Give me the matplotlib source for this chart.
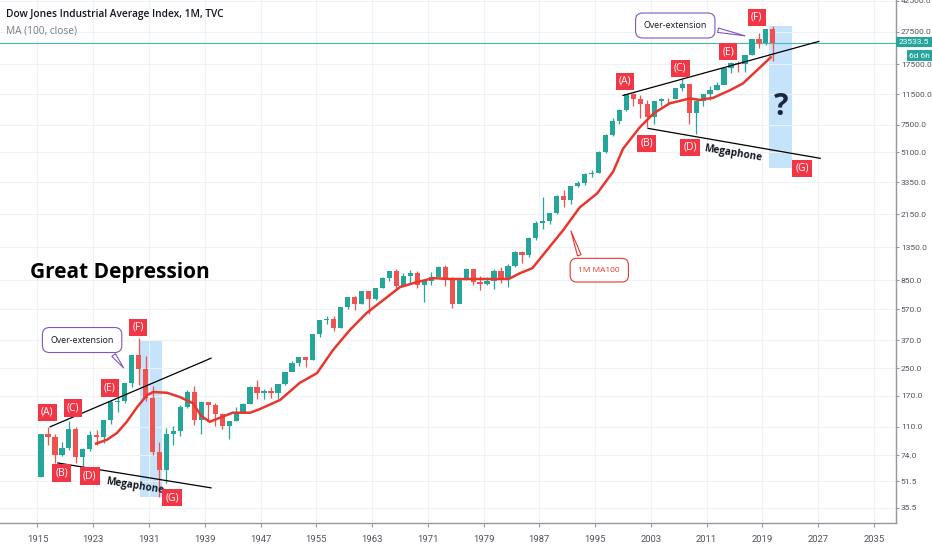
import matplotlib.pyplot as plt
from matplotlib.patches import Rectangle

# yearly candles (Dow Jones, TVC), last one = March 2020
years = list(range(1915, 2021))
open_1915 = 54.6
closes = [
    99.15, 95.00, 74.38, 82.20, 107.23, 71.95, 81.10, 98.73, 95.52, 120.51,
    156.66, 157.20, 202.40, 300.00, 248.48, 164.58, 77.90, 59.93, 99.90, 104.04,
    144.13, 179.90, 120.85, 154.76, 150.24, 131.13, 110.96, 119.40, 135.89, 152.32,
    192.91, 177.20, 181.16, 177.30, 200.13, 235.41, 269.23, 291.90, 280.90, 404.39,
    488.40, 499.47, 435.69, 583.65, 679.36, 615.89, 731.14, 652.10, 762.95, 874.13,
    969.26, 785.69, 905.11, 943.75, 800.36, 838.92, 890.20, 1020.02, 850.86, 616.24,
    852.41, 1004.65, 831.17, 805.01, 838.74, 963.99, 875.00, 1046.54, 1258.64, 1211.57,
    1546.67, 1895.95, 1938.83, 2168.57, 2753.20, 2633.66, 3168.83, 3301.11, 3754.09, 3834.44,
    5117.12, 6448.27, 7908.25, 9181.43, 11497.12, 10786.85, 10021.50, 8341.63, 10453.92, 10783.01,
    10717.50, 12463.15, 13264.82, 8776.39, 10428.05, 11577.51, 12217.56, 13104.14, 16576.66, 17823.07,
    17425.03, 19762.60, 24719.22, 23327.46, 28538.44, 23533.5,
]
highs = [
    99.21, 110.15, 99.18, 89.07, 119.62, 109.88, 81.50, 103.43, 105.38, 120.51,
    159.39, 166.64, 202.40, 300.00, 381.17, 294.07, 194.36, 88.78, 108.67, 110.74,
    148.44, 184.90, 194.40, 158.41, 155.92, 152.80, 133.59, 119.71, 145.82, 152.53,
    195.82, 212.50, 186.85, 193.16, 200.52, 235.47, 276.37, 292.00, 293.79, 404.39,
    488.40, 521.05, 520.77, 583.65, 679.36, 685.47, 734.91, 726.01, 767.21, 891.71,
    969.26, 995.15, 943.08, 985.21, 968.85, 842.00, 950.82, 1036.27, 1051.70, 891.66,
    881.81, 1014.79, 999.75, 907.74, 897.61, 1000.17, 1024.05, 1070.55, 1287.20, 1286.64,
    1553.10, 1955.57, 2722.42, 2183.50, 2791.41, 2999.75, 3168.83, 3413.21, 3794.33, 3978.36,
    5216.47, 6560.91, 8259.31, 9374.27, 11497.12, 11722.98, 11337.92, 10635.25, 10453.92, 10854.54,
    10940.55, 12510.57, 14164.53, 13058.20, 10548.51, 11585.38, 12810.54, 13610.15, 16576.66, 18053.71,
    18312.39, 19974.62, 24837.51, 26951.81, 28701.66, 29568.57,
]
lows = [
    54.22, 84.96, 65.95, 73.38, 79.15, 66.75, 63.90, 78.59, 85.76, 88.33,
    115.00, 135.20, 152.73, 191.33, 198.69, 157.51, 73.79, 41.22, 50.16, 85.51,
    96.71, 143.11, 113.64, 98.95, 121.44, 111.84, 106.34, 92.92, 119.26, 134.22,
    151.35, 163.12, 163.21, 165.39, 161.60, 196.81, 238.99, 256.35, 255.49, 279.87,
    388.20, 462.35, 419.79, 436.89, 574.46, 566.05, 610.25, 535.76, 646.79, 766.08,
    840.59, 744.32, 786.41, 825.13, 769.93, 631.16, 797.97, 889.15, 788.31, 577.60,
    632.04, 858.71, 800.85, 742.12, 796.67, 759.13, 824.01, 776.92, 1027.04, 1086.57,
    1184.96, 1502.29, 1738.74, 1879.14, 2144.64, 2365.10, 2470.30, 3136.58, 3241.95, 3593.35,
    3832.08, 5032.94, 6391.69, 7539.07, 9120.67, 9796.03, 8235.81, 7286.27, 7524.06, 9749.99,
    10012.36, 10667.39, 12050.41, 7552.29, 6547.05, 9686.48, 10655.30, 12101.46, 13328.85, 15372.80,
    15666.44, 15660.18, 19732.40, 21792.20, 22686.22, 18213.65,
]

# 1M MA100
ma_years = [
    1923.4, 1925.0, 1926.4, 1927.8, 1929.3, 1930.7, 1931.6, 1933.6, 1935.4, 1937.3,
    1938.5, 1939.7, 1941.2, 1943.0, 1945.5, 1946.9, 1949.8, 1952.6, 1955.1, 1957.4,
    1959.8, 1962.2, 1964.6, 1967.0, 1969.4, 1971.8, 1974.2, 1976.6, 1979.0, 1982.6,
    1984.2, 1986.0, 1988.1, 1990.4, 1992.8, 1995.3, 1997.6, 1999.0, 2001.4, 2003.4,
    2005.7, 2008.6, 2010.0, 2011.9, 2014.3, 2016.2, 2018.2, 2020.2,
]
ma_values = [
    87, 92, 101, 118, 145, 171, 179, 177, 167, 153,
    128, 118, 125, 134, 134, 141, 160, 203, 233, 322,
    425, 539, 646, 775, 830, 878, 868, 868, 868, 868,
    940, 1010, 1300, 1714, 2361, 2872, 3900, 5350, 7220, 8780,
    10100, 10820, 10600, 10900, 12100, 13330, 16000, 19200,
]

last_price = 23533.5
y_ticks = [35.5, 51.5, 74.0, 110.0, 170.0, 250.0, 370.0, 570.0, 850.0, 1350.0,
           2150.0, 3350.0, 5100.0, 7500.0, 11500.0, 17500.0, 27500.0, 42500.0]
x_ticks = list(range(1915, 2036, 8))

UP = "#26a69a"
DOWN = "#ef5350"
RED = "#f23645"
TEXT = "#131722"
AXIS_TXT = "#50535e"
SCALE_FONT = ["Roboto", "DejaVu Sans"]

plt.rcParams["font.family"] = ["Open Sans", "DejaVu Sans"]

fig = plt.figure(figsize=(9.32, 5.5), dpi=100)
ax = fig.add_axes([0, 27 / 550, 896 / 932, 523 / 550])
ax.set_yscale("log")
ax.set_xlim(1909.62, 1909.62 + 896 / 6.97)
ax.set_ylim(28.7, 42800)

# candles
opens = [open_1915] + closes[:-1]
xs = [y + 0.5 for y in years]
cols = [UP if c >= o else DOWN for o, c in zip(opens, closes)]
ax.vlines(xs, lows, highs, colors=cols, lw=0.9, zorder=3)
ax.bar(xs, [abs(c - o) for o, c in zip(opens, closes)],
       bottom=[min(o, c) for o, c in zip(opens, closes)],
       width=0.75, color=cols, zorder=3)

ax.plot(ma_years, ma_values, color="#e8372f", lw=1.8, zorder=4)
ax.axhline(last_price, color="#4db6ac", lw=0.8, zorder=2)

# axes look
for s in ["top", "left"]:
    ax.spines[s].set_visible(False)
for s in ["right", "bottom"]:
    ax.spines[s].set_color("#9598a1")
    ax.spines[s].set_linewidth(1.0)
ax.yaxis.tick_right()
ax.set_yticks(y_ticks)
ax.set_yticklabels([f"{v:.1f}" for v in y_ticks], family=SCALE_FONT)
ax.yaxis.set_minor_locator(plt.NullLocator())
ax.set_xticks(x_ticks)
ax.set_xticklabels([str(v) for v in x_ticks], family=SCALE_FONT)
ax.tick_params(axis="y", length=2.5, pad=1, labelsize=6.0, color="#9598a1", labelcolor=AXIS_TXT)
ax.tick_params(axis="x", length=3, pad=6, labelsize=6.8, color="#9598a1", labelcolor=AXIS_TXT)
ax.grid(color="#eef1f6", lw=0.8, zorder=0)

# shaded zones
ax.add_patch(Rectangle((1929.7, 41.3), 3.2, 370 - 41.3, fc="#bbdefb", ec="none", alpha=0.85, zorder=1))
ax.add_patch(Rectangle((2019.9, 4075), 3.4, 29560 - 4075, fc="#bbdefb", ec="none", alpha=0.85, zorder=1))

# megaphone lines
ax.plot([1916.8, 1939.9], [110, 287], color="black", lw=0.9, zorder=5)
ax.plot([1917.9, 1939.9], [66.4, 46.9], color="black", lw=0.9, zorder=5)
ax.plot([1999.0, 2027.1], [11280, 24000], color="black", lw=0.9, zorder=5)
ax.plot([2002.6, 2027.3], [7120, 4685], color="black", lw=0.9, zorder=5)
ax.text(1928.9, 48.0, "Megaphone", fontsize=7.2, fontweight="bold", rotation=-9,
        ha="center", va="center", color=TEXT, zorder=6)
ax.text(2014.8, 5050, "Megaphone", fontsize=7.2, fontweight="bold", rotation=-9.5,
        ha="center", va="center", color=TEXT, zorder=6)

# wave labels
labels = [
    ("(A)", 1916.4, 135), ("(C)", 1920.1, 143), ("(E)", 1925.4, 189), ("(F)", 1929.4, 443),
    ("(B)", 1918.5, 57.7), ("(D)", 1922.5, 55.4), ("(G)", 1934.3, 40.8),
    ("(A)", 1999.3, 13720), ("(C)", 2007.2, 16470), ("(E)", 2014.1, 20840), ("(F)", 2018.2, 33520),
    ("(B)", 2002.4, 5775), ("(D)", 2008.6, 5460), ("(G)", 2024.7, 4075),
]
for t, x, y in labels:
    ax.text(x, y, t, fontsize=7.5, fontweight="medium", color="white", ha="center", va="center",
            zorder=7, bbox=dict(boxstyle="square,pad=0.3", fc=RED, ec="none"))

# callouts
for xy, xyt, rp in [((1927.6, 243), (1921.4, 370), (0.85, 0.15)),
                    ((2016.9, 25740), (2006.5, 29970), (0.92, 0.35))]:
    ax.annotate("Over-extension", xy=xy, xytext=xyt, fontsize=6.4, fontweight="medium", color=TEXT,
                ha="center", va="center", zorder=8,
                bbox=dict(boxstyle="round,pad=0.9,rounding_size=0.8", fc="white", ec="#7e57c2", lw=0.8),
                arrowprops=dict(arrowstyle="wedge,tail_width=0.5,shrink_factor=0.5",
                                fc="white", ec="#7e57c2", lw=0.8, relpos=rp))
ax.annotate("1M MA100", xy=(1991.4, 1764), xytext=(1995.6, 982), fontsize=6.0, fontweight="medium",
            color="#e8372f", ha="center", va="center", zorder=8,
            bbox=dict(boxstyle="round,pad=1.0,rounding_size=0.8", fc="white", ec="#e8372f", lw=0.8),
            arrowprops=dict(arrowstyle="wedge,tail_width=0.45,shrink_factor=0.5",
                            fc="white", ec="#e8372f", lw=0.8, relpos=(0.12, 0.9)))

ax.text(2021.7, 9560, "?", fontsize=22, fontweight="bold", color="#1c2541",
        ha="center", va="center", zorder=8)
ax.text(1926.8, 955, "Great Depression", fontsize=15, fontweight="bold", color="black",
        ha="center", va="center", zorder=8)

# header
fig.text(6 / 932, 1 - 15 / 550, "Dow Jones Industrial Average Index, 1M, TVC",
         fontsize=7.3, fontweight="semibold", color=TEXT, va="center")
fig.text(6 / 932, 1 - 31 / 550, "MA (100, close)", fontsize=7.3, color="#787b86", va="center")

# price tags on the scale
fig.patches.append(Rectangle((896 / 932, 1 - 46.5 / 550), 36 / 932, 10 / 550,
                             transform=fig.transFigure, fc="#26a69a", ec="none", zorder=5))
fig.text(914 / 932, 1 - 41.5 / 550, "23533.5", fontsize=6.0, color="white", ha="center", va="center",
         family=SCALE_FONT, zorder=6)
fig.patches.append(Rectangle((907 / 932, 1 - 61 / 550), 25 / 932, 11 / 550,
                             transform=fig.transFigure, fc="#26a69a", ec="none", zorder=5))
fig.text(919.5 / 932, 1 - 55.5 / 550, "6d 6h", fontsize=6.0, color="white", ha="center", va="center",
         family=SCALE_FONT, zorder=6)

fig.savefig("out.png", dpi=100)
